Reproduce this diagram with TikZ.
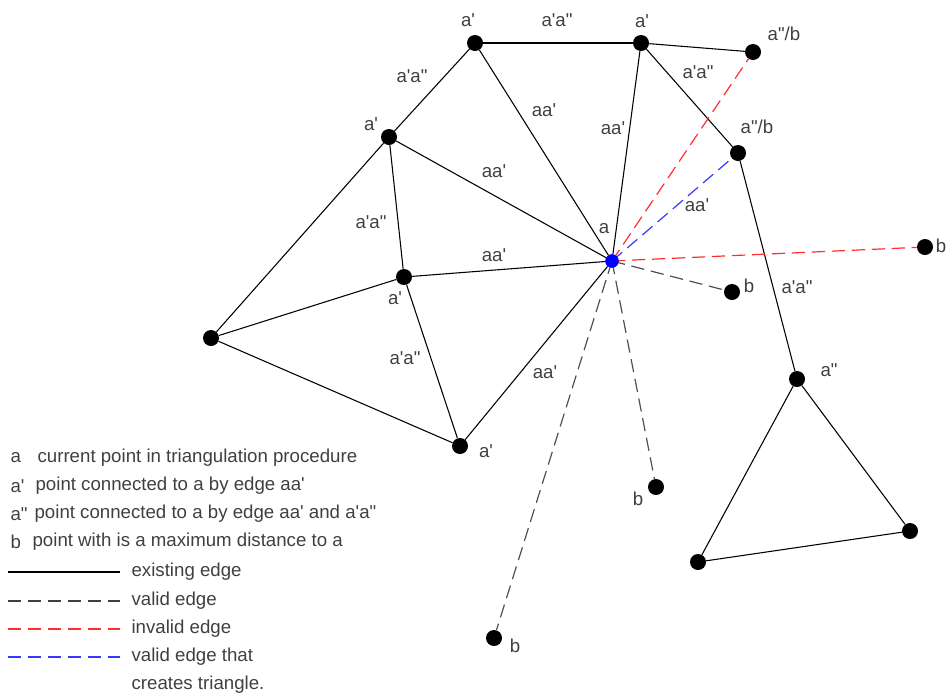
\documentclass[tikz,border=0pt]{standalone}
\usepackage{fontspec}
\newfontfamily\arialish{Liberation Sans}
\usetikzlibrary{positioning}
\definecolor{txtgray}{RGB}{64,64,64}
\definecolor{invred}{RGB}{255,45,45}
\definecolor{valblue}{RGB}{55,55,255}
\definecolor{valgray}{RGB}{80,80,80}

\begin{document}
\begin{tikzpicture}[
    x=0.75pt, y=-0.75pt,
    pnt/.style={circle, fill=black, inner sep=0pt, minimum size=12pt},    % Triangulation points
    cur/.style={circle, fill=blue, inner sep=0pt, minimum size=10pt},     % Current point a
    lbl/.style={text=txtgray, font=\arialish\fontsize{14}{16}\selectfont, inner sep=1pt},
    existing/.style={draw=black, line width=0.8pt},                       % Existing edge
    valid/.style={draw=valgray, line width=0.9pt, dash pattern=on 10pt off 5pt},
    invalid/.style={valid, draw=invred},
    closing/.style={valid, draw=valblue}
]
\useasboundingbox (0,0) rectangle (946,697);

% --- POINTS ---
\node[cur] (a)   at (612,261) {};
\node[pnt] (t1)  at (475,43)  {};
\node[pnt] (t2)  at (641,43)  {};
\node[pnt] (t3)  at (753,52)  {};
\node[pnt] (l1)  at (389,137) {};
\node[pnt] (r1)  at (738,153) {};
\node[pnt] (rb)  at (925,247) {};
\node[pnt] (l2)  at (404,277) {};
\node[pnt] (nb)  at (732,292) {};
\node[pnt] (l0)  at (211,338) {};
\node[pnt] (r2)  at (797,379) {};
\node[pnt] (l3)  at (460,446) {};
\node[pnt] (mb)  at (656,487) {};
\node[pnt] (q1)  at (910,531) {};
\node[pnt] (q2)  at (698,562) {};
\node[pnt] (fb)  at (494,638) {};

% --- POINT LABELS ---
\node[lbl] (la)  at (604,229) {a};
\node[lbl] (lt1) at (468,20)  {a'};
\node[lbl] (lt2) at (642,21)  {a'};
\node[lbl] (lt3) at (784,34)  {a"/b};
\node[lbl] (ll1) at (371,124) {a'};
\node[lbl] (lr1) at (757,127) {a"/b};
\node[lbl] (lrb) at (941,246) {b};
\node[lbl] (ll2) at (395,298) {a'};
\node[lbl] (lnb) at (749,286) {b};
\node[lbl] (lr2) at (829,370) {a"};
\node[lbl] (ll3) at (486,451) {a'};
\node[lbl] (lmb) at (638,499) {b};
\node[lbl] (lfb) at (515,646) {b};

% --- EXISTING EDGES ---
\draw[existing] (t1) -- (t2);
\draw[existing] (t2) -- (t3);
\draw[existing] (t1) -- (l1);
\draw[existing] (t1) -- (a);
\draw[existing] (t2) -- (a);
\draw[existing] (t2) -- (r1);
\draw[existing] (l1) -- (a);
\draw[existing] (l1) -- (l2);
\draw[existing] (l1) -- (l0);
\draw[existing] (l2) -- (a);
\draw[existing] (l2) -- (l0);
\draw[existing] (l2) -- (l3);
\draw[existing] (l0) -- (l3);
\draw[existing] (l3) -- (a);
\draw[existing] (r1) -- (r2);
\draw[existing] (r2) -- (q1);
\draw[existing] (r2) -- (q2);
\draw[existing] (q2) -- (q1);

% --- CANDIDATE EDGES FROM a ---
\draw[invalid] (a.center) -- (t3);
\draw[closing] (a.center) -- (r1);
\draw[invalid] (a.center) -- (rb);
\draw[valid]   (a.center) -- (nb);
\draw[valid]   (a.center) -- (mb);
\draw[valid]   (a.center) -- (fb);
\node[cur] (a2) at (a) {};  % current point on top of its edges

% --- EDGE LABELS ---
\node[lbl] (e1)  at (557,20)  {a'a"};
\node[lbl] (e2)  at (412,76)  {a'a"};
\node[lbl] (e3)  at (544,110) {aa'};
\node[lbl] (e4)  at (613,128) {aa'};
\node[lbl] (e5)  at (698,72)  {a'a"};
\node[lbl] (e6)  at (494,171) {aa'};
\node[lbl] (e7)  at (371,222) {a'a"};
\node[lbl] (e8)  at (494,255) {aa'};
\node[lbl] (e9)  at (405,358) {a'a"};
\node[lbl] (e10) at (545,372) {aa'};
\node[lbl] (e11) at (697,205) {aa'};
\node[lbl] (e12) at (797,287) {a'a"};

% --- LEGEND ---
\node[lbl, anchor=west] (k1) at (9,458)  {a};
\node[lbl, anchor=west] (d1) at (36,458) {current point in triangulation procedure};
\node[lbl, anchor=west] (k2) at (9,486)  {a'};
\node[lbl, anchor=west] (d2) at (34,486) {point connected to a by edge aa'};
\node[lbl, anchor=west] (k3) at (9,514)  {a"};
\node[lbl, anchor=west] (d3) at (33,514) {point connected to a by edge aa' and a'a"};
\node[lbl, anchor=west] (k4) at (9,542)  {b};
\node[lbl, anchor=west] (d4) at (31,542) {point with is a maximum distance to a};

\coordinate (s1) at (8,572);   \coordinate (s1e) at (120,572);
\coordinate (s2) at (8,601);   \coordinate (s2e) at (120,601);
\coordinate (s3) at (8,629);   \coordinate (s3e) at (120,629);
\coordinate (s4) at (8,657);   \coordinate (s4e) at (120,657);
\draw[existing] (s1) -- (s1e);
\draw[valid, draw=black!75] (s2) -- (s2e);
\draw[invalid] (s3) -- (s3e);
\draw[closing] (s4) -- (s4e);
\node[lbl, anchor=west] (g1) at (130,572) {existing edge};
\node[lbl, anchor=west] (g2) at (130,601) {valid edge};
\node[lbl, anchor=west] (g3) at (130,629) {invalid edge};
\node[lbl, anchor=west, align=left, font=\arialish\fontsize{14}{21}\selectfont] (g4) at (130,671) {valid edge that\\creates triangle.};

\end{tikzpicture}
\end{document}
